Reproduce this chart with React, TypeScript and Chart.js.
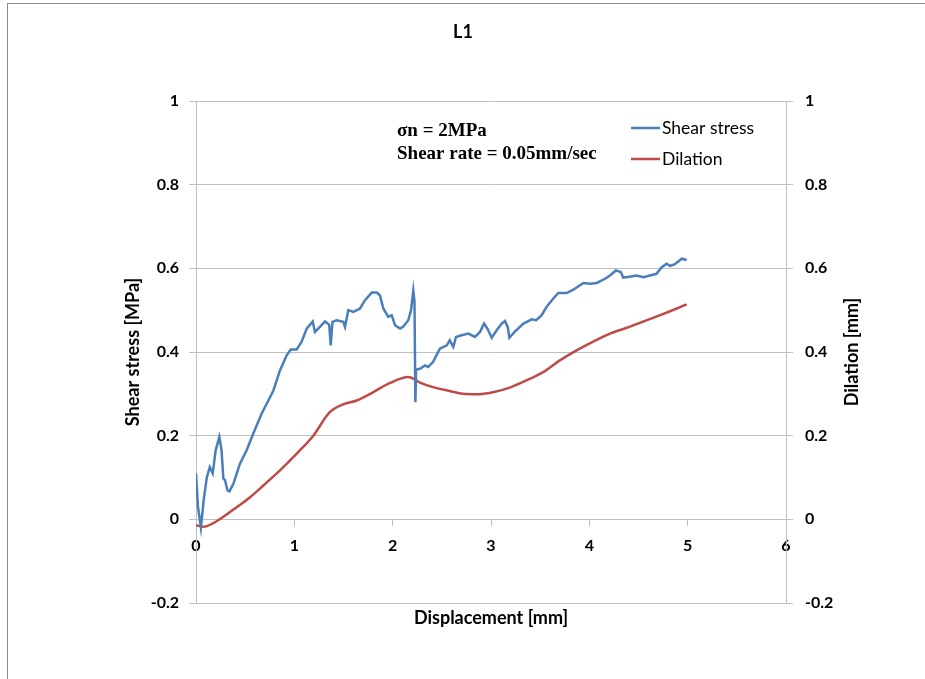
import React, { useEffect, useRef } from "react";
import { Chart, registerables } from "chart.js";
Chart.register(...registerables);

const chartTitle = "L1";
const annotationLines = ["σn = 2MPa", "Shear rate = 0.05mm/sec"];
const xTitle = "Displacement [mm]";
const yLeftTitle = "Shear stress [MPa]";
const yRightTitle = "Dilation [mm]";

const shearDisp = [
  0.0, 0.02, 0.05, 0.08, 0.11, 0.14, 0.17, 0.2, 0.237, 0.26, 0.278, 0.295, 0.32, 0.34, 0.38,
  0.447, 0.515, 0.583, 0.668, 0.736, 0.787, 0.854, 0.922, 0.963, 1.024, 1.073, 1.126, 1.187,
  1.21, 1.26, 1.312, 1.339, 1.355, 1.37, 1.388, 1.43, 1.498, 1.515, 1.549, 1.6, 1.668, 1.719,
  1.787, 1.838, 1.871, 1.905, 1.956, 1.99, 2.024, 2.075, 2.108, 2.159, 2.187, 2.21, 2.222,
  2.231, 2.238, 2.278, 2.329, 2.36, 2.41, 2.48, 2.55, 2.58, 2.617, 2.644, 2.7, 2.77, 2.837,
  2.888, 2.93, 2.963, 3.007, 3.058, 3.109, 3.142, 3.17, 3.187, 3.24, 3.33, 3.414, 3.46, 3.515,
  3.566, 3.634, 3.685, 3.77, 3.837, 3.939, 4.007, 4.075, 4.16, 4.21, 4.27, 4.32, 4.345, 4.41,
  4.48, 4.55, 4.615, 4.683, 4.734, 4.785, 4.82, 4.87, 4.94, 4.99,
];
const shearStress = [
  0.11, 0.03, -0.02, 0.05, 0.1, 0.125, 0.11, 0.165, 0.197, 0.165, 0.098, 0.094, 0.069, 0.067, 0.085,
  0.133, 0.165, 0.205, 0.253, 0.284, 0.308, 0.356, 0.392, 0.406, 0.406, 0.424, 0.456, 0.473,
  0.448, 0.46, 0.473, 0.468, 0.465, 0.416, 0.472, 0.476, 0.472, 0.46, 0.5, 0.496, 0.504, 0.524,
  0.542, 0.542, 0.535, 0.504, 0.484, 0.488, 0.464, 0.456, 0.461, 0.476, 0.5, 0.547, 0.52,
  0.28, 0.358, 0.36, 0.368, 0.364, 0.376, 0.408, 0.416, 0.428, 0.412, 0.436, 0.44, 0.444, 0.436,
  0.448, 0.468, 0.456, 0.434, 0.452, 0.468, 0.474, 0.46, 0.434, 0.448, 0.468, 0.478, 0.476, 0.488,
  0.508, 0.528, 0.541, 0.541, 0.549, 0.565, 0.563, 0.565, 0.575, 0.583, 0.595, 0.591, 0.578, 0.58,
  0.583, 0.579, 0.583, 0.587, 0.602, 0.611, 0.606, 0.61, 0.623, 0.62,
];

const dilationDisp = [
  0.0, 0.075, 0.176, 0.278, 0.414, 0.55, 0.685, 0.854, 1.024, 1.193, 1.36, 1.498, 1.634, 1.803,
  1.973, 2.159, 2.278, 2.41, 2.58, 2.715, 2.85, 3.02, 3.19, 3.36, 3.53, 3.7, 3.87, 4.04, 4.21,
  4.38, 4.55, 4.72, 4.89, 4.99,
];
const dilationValues = [
  -0.014, -0.018, -0.009, 0.006, 0.029, 0.053, 0.081, 0.117, 0.157, 0.2, 0.256, 0.275, 0.284, 0.304,
  0.326, 0.34, 0.327, 0.316, 0.307, 0.3, 0.299, 0.304, 0.315, 0.332, 0.352, 0.38, 0.404, 0.425, 0.444,
  0.458, 0.473, 0.488, 0.504, 0.514,
];

const seriesLabels = ["Shear stress", "Dilation"];
const seriesColors = ["#4a7ebb", "#be4b48"];

const SANS = "Lato, 'Open Sans', sans-serif";
const SERIF = "'Liberation Serif', 'DejaVu Serif', serif";
const GRID = "#bfbfbf";

const fmt = (v: number) => String(Math.round(v * 10) / 10);

const decorPlugin = {
  id: "decor",
  beforeDraw(chart: any) {
    const ctx = chart.ctx;
    ctx.save();
    ctx.fillStyle = "#ffffff";
    ctx.fillRect(0, 0, chart.width, chart.height);
    ctx.strokeStyle = "#8c8c8c";
    ctx.lineWidth = 1;
    ctx.strokeRect(7.5, 3.5, 2000, 2000);
    ctx.restore();
  },
  afterDraw(chart: any) {
    const ctx = chart.ctx;
    const area = chart.chartArea;
    ctx.save();
    ctx.fillStyle = "#000";
    // chart title
    ctx.font = `bold 18px ${SANS}`;
    ctx.textAlign = "center";
    ctx.textBaseline = "middle";
    ctx.fillText(chartTitle, 463, 32);
    // right axis title (reads bottom-to-top)
    ctx.save();
    ctx.translate(852, (area.top + area.bottom) / 2);
    ctx.rotate(-Math.PI / 2);
    ctx.font = `bold 18px ${SANS}`;
    ctx.fillText(yRightTitle, 0, 0);
    ctx.restore();
    // annotation
    ctx.textAlign = "left";
    ctx.font = `bold 19px ${SERIF}`;
    annotationLines.forEach((t, i) => ctx.fillText(t, 397, 131 + i * 23));
    // legend
    ctx.font = `17.5px ${SANS}`;
    chart.data.datasets.forEach((ds: any, i: number) => {
      const y = 128 + i * 31;
      ctx.strokeStyle = ds.borderColor;
      ctx.lineWidth = 2.5;
      ctx.beginPath();
      ctx.moveTo(631, y);
      ctx.lineTo(660, y);
      ctx.stroke();
      ctx.fillStyle = "#000";
      ctx.fillText(ds.label, 662, y);
    });
    ctx.restore();
  },
};

export default function App() {
  const ref = useRef<HTMLCanvasElement | null>(null);
  useEffect(() => {
    if (!ref.current) return;
    const chart = new Chart(ref.current, {
      type: "line",
      data: {
        datasets: [
          {
            label: seriesLabels[0],
            data: shearDisp.map((x, i) => ({ x, y: shearStress[i] })),
            borderColor: seriesColors[0],
            backgroundColor: seriesColors[0],
            borderWidth: 2.5,
            pointRadius: 0,
            tension: 0,
            yAxisID: "y",
          },
          {
            label: seriesLabels[1],
            data: dilationDisp.map((x, i) => ({ x, y: dilationValues[i] })),
            borderColor: seriesColors[1],
            backgroundColor: seriesColors[1],
            borderWidth: 2.5,
            pointRadius: 0,
            cubicInterpolationMode: "monotone",
            yAxisID: "y2",
          },
        ],
      },
      options: {
        responsive: false,
        animation: false,
        devicePixelRatio: 1,
        layout: { padding: { left: 118, right: 61, top: 101, bottom: 76 } },
        plugins: { legend: { display: false }, title: { display: false }, tooltip: { enabled: false } },
        scales: {
          x: {
            type: "linear",
            min: 0,
            max: 6,
            position: { y: 0 } as any,
            afterFit: (s: any) => {
              s.height = 114;
            },
            ticks: { stepSize: 1, padding: 11, color: "#000", font: { family: SANS, size: 16, weight: "bold" }, maxRotation: 0 },
            grid: { drawOnChartArea: false, drawTicks: true, tickLength: 6, color: GRID },
            border: { color: GRID },
            title: { display: true, text: xTitle, color: "#000", font: { family: SANS, size: 18, weight: "bold" } },
          },
          y: {
            type: "linear",
            position: "left",
            min: -0.2,
            max: 1,
            afterFit: (s: any) => {
              s.width = 78;
            },
            ticks: { stepSize: 0.2, padding: 10, color: "#000", callback: (v: any) => fmt(v), font: { family: SANS, size: 16, weight: "bold" } },
            grid: { color: GRID, tickLength: 7 },
            border: { color: GRID },
            title: { display: true, text: yLeftTitle, color: "#000", font: { family: SANS, size: 18, weight: "bold" } },
          },
          y2: {
            type: "linear",
            position: "right",
            min: -0.2,
            max: 1,
            afterFit: (s: any) => {
              s.width = 78;
            },
            ticks: { stepSize: 0.2, padding: 12, color: "#000", callback: (v: any) => fmt(v), font: { family: SANS, size: 16, weight: "bold" } },
            grid: { drawOnChartArea: false, color: GRID, tickLength: 7 },
            border: { color: GRID },
          },
        },
      },
      plugins: [decorPlugin],
    } as any);
    return () => chart.destroy();
  }, []);
  return (
    <div style={{ position: "fixed", left: 0, top: 0, width: 925, height: 679, background: "#fff" }}>
      <canvas ref={ref} width={925} height={679} style={{ display: "block" }} />
    </div>
  );
}
